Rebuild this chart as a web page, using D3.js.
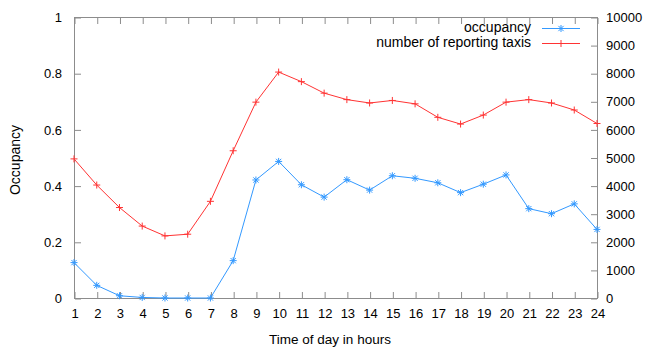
<!DOCTYPE html>
<html>
<head>
<meta charset="utf-8">
<script src="https://cdn.jsdelivr.net/npm/d3@7"></script>
<style>
  html, body { margin: 0; padding: 0; background: #fff; }
  svg { display: block; font-family: "Liberation Sans", Arial, sans-serif; }
</style>
</head>
<body>
<svg id="chart" width="646" height="350"></svg>
<script>
// Hour of day (1..24)
const hours = [1,2,3,4,5,6,7,8,9,10,11,12,13,14,15,16,17,18,19,20,21,22,23,24];

// Fraction of taxis carrying passengers, per hour
const occupancy = [0.126, 0.045, 0.008, 0.002, 0, 0, 0, 0.133, 0.42, 0.486, 0.403, 0.359,
                   0.421, 0.384, 0.435, 0.426, 0.41, 0.375, 0.405, 0.438, 0.318, 0.3, 0.335, 0.244];

// Number of taxis reporting, per hour
const reportingTaxis = [4950, 4020, 3220, 2560, 2210, 2270, 3440, 5240, 6970, 8040, 7700, 7290,
                        7060, 6940, 7030, 6910, 6430, 6190, 6510, 6970, 7060, 6940, 6690, 6210];

const leftTicks = [0, 0.2, 0.4, 0.6, 0.8, 1];
const rightTicks = [0, 1000, 2000, 3000, 4000, 5000, 6000, 7000, 8000, 9000, 10000];
const seriesNames = ["occupancy", "number of reporting taxis"];

const blue = "#3399ff";
const red = "#ff3333";
const frameColor = "#8c8c8c";

const svg = d3.select("#chart");
const m = { left: 74, right: 597, top: 17, bottom: 298 };

const x = d3.scaleLinear().domain([1, 24]).range([m.left, m.right]);
const yL = d3.scaleLinear().domain([0, 1]).range([m.bottom, m.top]);
const yR = d3.scaleLinear().domain([0, 10000]).range([m.bottom, m.top]);

const tickLen = 6;

// Frame
svg.append("rect")
  .attr("x", m.left + 0.5).attr("y", m.top + 0.5)
  .attr("width", m.right - m.left).attr("height", m.bottom - m.top)
  .attr("fill", "none").attr("stroke", frameColor).attr("stroke-width", 1);

function styleAxis(g) {
  g.select(".domain").remove();
  g.selectAll(".tick line").attr("stroke", frameColor);
  g.selectAll(".tick text").attr("fill", "#000").attr("font-size", 13);
}

// Bottom axis (ticks pointing inward)
svg.append("g")
  .attr("transform", `translate(0.5,${m.bottom})`)
  .call(d3.axisBottom(x).tickValues(hours).tickFormat(d3.format("d")).tickSizeInner(-tickLen).tickSizeOuter(0).tickPadding(11))
  .call(styleAxis);

// Top mirrored ticks
svg.append("g")
  .attr("transform", `translate(0.5,${m.top + 1})`)
  .call(d3.axisTop(x).tickValues(hours).tickFormat("").tickSizeInner(-tickLen).tickSizeOuter(0))
  .call(styleAxis);

// Left axis
svg.append("g")
  .attr("transform", `translate(${m.left + 1},0.5)`)
  .call(d3.axisLeft(yL).tickValues(leftTicks).tickFormat(d => d3.format("")(d)).tickSizeInner(-tickLen).tickSizeOuter(0).tickPadding(13))
  .call(styleAxis);

// Right axis
svg.append("g")
  .attr("transform", `translate(${m.right},0.5)`)
  .call(d3.axisRight(yR).tickValues(rightTicks).tickFormat(d3.format("d")).tickSizeInner(-tickLen).tickSizeOuter(0).tickPadding(9))
  .call(styleAxis);

// Axis titles
svg.append("text")
  .attr("x", 330).attr("y", 344)
  .attr("text-anchor", "middle").attr("font-size", 13.5).attr("fill", "#000")
  .text("Time of day in hours");

svg.append("text")
  .attr("transform", `translate(20,160) rotate(-90)`)
  .attr("text-anchor", "middle").attr("font-size", 14).attr("fill", "#000")
  .text("Occupancy");

// Marker shapes
function starMarker(g, cx, cy, color) {
  const r = 3.5, d = r * 0.75;
  const p = `M${cx - r},${cy}L${cx + r},${cy}M${cx},${cy - r}L${cx},${cy + r}` +
            `M${cx - d},${cy - d}L${cx + d},${cy + d}M${cx - d},${cy + d}L${cx + d},${cy - d}`;
  g.append("path").attr("d", p).attr("stroke", color).attr("stroke-width", 1).attr("fill", "none");
}
function plusMarker(g, cx, cy, color) {
  const r = 3.5;
  const p = `M${cx - r},${cy}L${cx + r},${cy}M${cx},${cy - r}L${cx},${cy + r}`;
  g.append("path").attr("d", p).attr("stroke", color).attr("stroke-width", 1).attr("fill", "none");
}

// Taxi count series (right axis)
const redLine = d3.line().x((d, i) => x(hours[i])).y(d => yR(d));
svg.append("path").datum(reportingTaxis)
  .attr("d", redLine).attr("fill", "none").attr("stroke", red).attr("stroke-width", 1);
const gRed = svg.append("g");
reportingTaxis.forEach((v, i) => plusMarker(gRed, x(hours[i]), yR(v), red));

// Occupancy series (left axis)
const blueLine = d3.line().x((d, i) => x(hours[i])).y(d => yL(d));
svg.append("path").datum(occupancy)
  .attr("d", blueLine).attr("fill", "none").attr("stroke", blue).attr("stroke-width", 1);
const gBlue = svg.append("g");
occupancy.forEach((v, i) => starMarker(gBlue, x(hours[i]), yL(v), blue));

// Legend
const legend = svg.append("g");
const legendColors = [blue, red];
const legendMarkers = [starMarker, plusMarker];
seriesNames.forEach((name, i) => {
  const ly = 28 + i * 15;
  legend.append("text")
    .attr("x", 531).attr("y", ly + 4)
    .attr("text-anchor", "end").attr("font-size", 14).attr("fill", "#000")
    .text(name);
  legend.append("line")
    .attr("x1", 542).attr("x2", 580).attr("y1", ly + 0.5).attr("y2", ly + 0.5)
    .attr("stroke", legendColors[i]).attr("stroke-width", 1);
  legendMarkers[i](legend, 561, ly + 0.5, legendColors[i]);
});
</script>
</body>
</html>
